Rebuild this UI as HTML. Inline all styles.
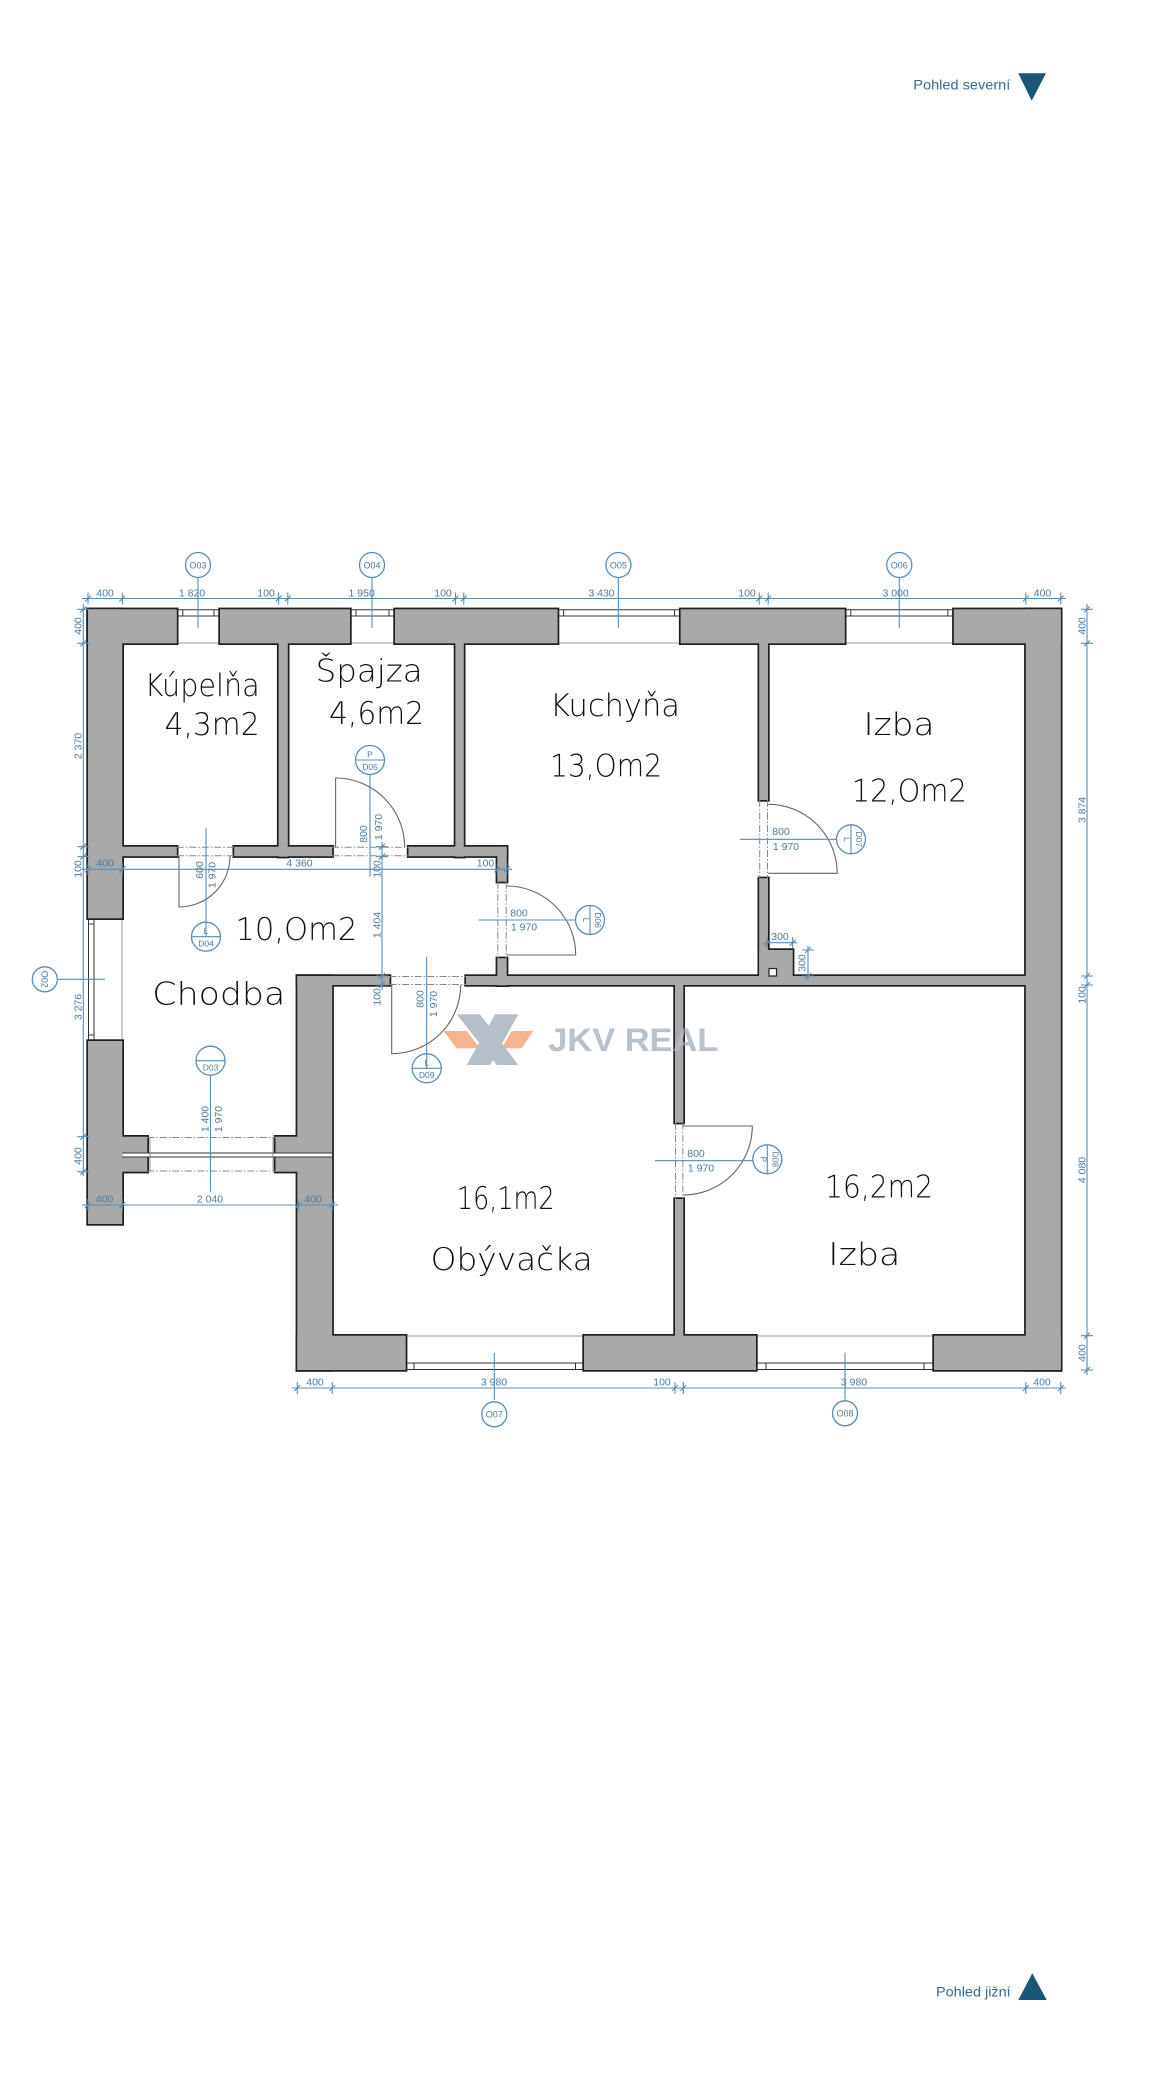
<!DOCTYPE html>
<html><head><meta charset="utf-8"><style>
html,body{margin:0;padding:0;background:#fff;}
svg{display:block;}
</style></head><body>
<svg xmlns="http://www.w3.org/2000/svg" width="1170" height="2080" viewBox="0 0 1170 2080">
<rect width="1170" height="2080" fill="#fff"/>

<!-- compass labels -->
<text x="913.3" y="89.3" font-family="Liberation Sans, sans-serif" font-size="13.5" fill="#3a6a8e" textLength="97" lengthAdjust="spacingAndGlyphs">Pohled severní</text>
<polygon points="1018.3,73.3 1046,73.3 1031.7,100.7" fill="#1d5577"/>
<text x="936" y="1996.7" font-family="Liberation Sans, sans-serif" font-size="13.5" fill="#3a6a8e" textLength="74.7" lengthAdjust="spacingAndGlyphs">Pohled jižní</text>
<polygon points="1032.3,1973.3 1046.7,2000 1018.3,2000" fill="#1d5577"/>

<!-- windows thin lines -->
<g stroke="#333" stroke-width="1" fill="none">
  <path d="M176.8,609.8H220M176.8,616H220M182.8,609.8V616M214,609.8V616"/>
  <path d="M350,609.8H395M350,616H395M356,609.8V616M389,609.8V616"/>
  <path d="M557.6,609.8H680.6M557.6,616H680.6M563.6,609.8V616M674.6,609.8V616"/>
  <path d="M844.8,609.8H953.8M844.8,616H953.8M850.8,609.8V616M947.8,609.8V616"/>
  <path d="M88.5,918.3V1041M94,918.3V1041M88.5,924H94M88.5,1035H94"/>
  <path d="M405.7,1363H584M405.7,1369.5H584M414,1363V1369.5M575.5,1363V1369.5"/>
  <path d="M756,1363H934M756,1369.5H934M766,1363V1369.5M924,1363V1369.5"/>
</g>
<g stroke="#999" stroke-width="1" fill="none">
  <path d="M176.8,643H220M350,643H395M557.6,643H680.6M844.8,643H953.8"/>
  <path d="M122,918.3V1041"/>
  <path d="M405.7,1336H584M756,1336H934"/>
</g>

<!-- logo (under walls, semi-transparent look) -->
<g>
  <polygon points="443.3,1031 466.7,1031 480,1048.3 456.7,1048.3" fill="#f5b48e"/>
  <polygon points="511.7,1031 533.3,1031 521.7,1048.3 501.7,1048.3" fill="#f5b48e"/>
  <polygon points="456.7,1014.3 480,1014.3 518.3,1065 496.7,1065" fill="#b5bfc9"/>
  <polygon points="495,1014.3 518.3,1014.3 490,1065 466.7,1065" fill="#b5bfc9"/>
  <text x="548.3" y="1051" font-family="Liberation Sans, sans-serif" font-weight="bold" font-size="32" fill="#b8c2cc" textLength="170" lengthAdjust="spacingAndGlyphs">JKV REAL</text>
</g>

<!-- walls: stroke pass -->
<g fill="#a9a9a9" stroke="#1e1e1e" stroke-width="3.4">
  <rect x="88" y="609.3" width="88.8" height="34"/>
  <rect x="220" y="609.3" width="130" height="34"/>
  <rect x="395" y="609.3" width="162.6" height="34"/>
  <rect x="680.6" y="609.3" width="164.2" height="34"/>
  <rect x="953.8" y="609.3" width="107" height="34"/>
  <rect x="88" y="609.3" width="34.3" height="309"/>
  <rect x="88" y="1041" width="34.3" height="183"/>
  <rect x="1025.8" y="609.3" width="35" height="760.7"/>
  <rect x="297.3" y="1335.7" width="108.4" height="34.3"/>
  <rect x="584" y="1335.7" width="172" height="34.3"/>
  <rect x="934" y="1335.7" width="126.8" height="34.3"/>
  <rect x="297.3" y="976" width="34.9" height="394"/>
  <rect x="118" y="1136.7" width="29.3" height="35"/>
  <rect x="275.5" y="1136.7" width="25" height="35"/>
  <rect x="278.6" y="640" width="9.2" height="216.7"/>
  <rect x="455.4" y="640" width="8.4" height="216.7"/>
  <rect x="118" y="846.7" width="58.8" height="9.5"/>
  <rect x="234.2" y="846.7" width="98" height="9.5"/>
  <rect x="408.5" y="846.7" width="98.2" height="9.5"/>
  <rect x="497.3" y="846.7" width="9.4" height="35"/>
  <rect x="497.3" y="958.3" width="9.4" height="27"/>
  <rect x="297.3" y="976" width="92.3" height="9"/>
  <rect x="466" y="976" width="562" height="9"/>
  <rect x="759.2" y="640" width="8.8" height="160"/>
  <rect x="759.2" y="878.3" width="8.8" height="100"/>
  <rect x="759.2" y="950" width="33.5" height="28"/>
  <rect x="675" y="983" width="8.3" height="139.7"/>
  <rect x="675" y="1199" width="8.3" height="139"/>
</g>
<!-- walls: fill pass -->
<g fill="#a9a9a9" stroke="none">
  <rect x="88" y="609.3" width="88.8" height="34"/>
  <rect x="220" y="609.3" width="130" height="34"/>
  <rect x="395" y="609.3" width="162.6" height="34"/>
  <rect x="680.6" y="609.3" width="164.2" height="34"/>
  <rect x="953.8" y="609.3" width="107" height="34"/>
  <rect x="88" y="609.3" width="34.3" height="309"/>
  <rect x="88" y="1041" width="34.3" height="183"/>
  <rect x="1025.8" y="609.3" width="35" height="760.7"/>
  <rect x="297.3" y="1335.7" width="108.4" height="34.3"/>
  <rect x="584" y="1335.7" width="172" height="34.3"/>
  <rect x="934" y="1335.7" width="126.8" height="34.3"/>
  <rect x="297.3" y="976" width="34.9" height="394"/>
  <rect x="118" y="1136.7" width="29.3" height="35"/>
  <rect x="275.5" y="1136.7" width="25" height="35"/>
  <rect x="278.6" y="640" width="9.2" height="216.7"/>
  <rect x="455.4" y="640" width="8.4" height="216.7"/>
  <rect x="118" y="846.7" width="58.8" height="9.5"/>
  <rect x="234.2" y="846.7" width="98" height="9.5"/>
  <rect x="408.5" y="846.7" width="98.2" height="9.5"/>
  <rect x="497.3" y="846.7" width="9.4" height="35"/>
  <rect x="497.3" y="958.3" width="9.4" height="27"/>
  <rect x="297.3" y="976" width="92.3" height="9"/>
  <rect x="466" y="976" width="562" height="9"/>
  <rect x="759.2" y="640" width="8.8" height="160"/>
  <rect x="759.2" y="878.3" width="8.8" height="100"/>
  <rect x="759.2" y="950" width="33.5" height="28"/>
  <rect x="675" y="983" width="8.3" height="139.7"/>
  <rect x="675" y="1199" width="8.3" height="139"/>
</g>
<rect x="769" y="968.5" width="7.5" height="7.5" fill="#fff" stroke="#222" stroke-width="1.2"/>

<!-- logo text overlay over partition (watermark) -->
<text x="548.3" y="1051" font-family="Liberation Sans, sans-serif" font-weight="bold" font-size="32" fill="#b8c2cc" fill-opacity="0.55" textLength="170" lengthAdjust="spacingAndGlyphs">JKV REAL</text>

<!-- entrance threshold band -->
<rect x="122.8" y="1153" width="209" height="4" fill="#fff"/>
<path d="M122.3,1153H332.2M122.3,1157H332.2" stroke="#333" stroke-width="1"/>
<path d="M147.3,1137.5H275.5M147.3,1171H275.5" stroke="#888" stroke-width="1" stroke-dasharray="7 2 1.5 2" fill="none"/>
<path d="M150,1137V1171.5M273,1137V1171.5" stroke="#777" stroke-width="0.8"/>

<!-- door gap dash lines -->
<g stroke="#888" stroke-width="1" stroke-dasharray="7 2 1.5 2" fill="none">
  <path d="M176.8,847.2H234.2M176.8,855.7H234.2"/>
  <path d="M332.2,847.2H408.5M332.2,855.7H408.5"/>
  <path d="M497.8,881.7V958.3M506.2,881.7V958.3"/>
  <path d="M759.7,800V878.3M767.5,800V878.3"/>
  <path d="M675.5,1122.7V1199M682.8,1122.7V1199"/>
  <path d="M389.6,976.5H466M389.6,984.5H466"/>
</g>

<!-- door swings -->
<g stroke="#666" stroke-width="1.1" fill="none">
  <path d="M179,856V907A51,51 0 0 0 230,856"/>
  <path d="M335.6,847V778A69,69 0 0 1 404.6,847"/>
  <path d="M506.7,955H575.7A69,69 0 0 0 506.7,886"/>
  <path d="M768.2,873.3H837.2A69,69 0 0 0 768.2,804.3"/>
  <path d="M683.3,1126H752.3A69,69 0 0 1 683.3,1195"/>
  <path d="M391.7,985V1053.7A69,69 0 0 0 460.7,985"/>
</g>

<!-- dimension lines -->
<g stroke="#5a8cb4" stroke-width="1.1" fill="none">
  <path d="M82,598.5H1066"/>
  <path d="M83.3,604V1176"/>
  <path d="M1087,604V1375"/>
  <path d="M292,1388H1066"/>
  <path d="M82,869.3H512"/>
  <path d="M82,1205H338"/>
  <path d="M382,842V990"/>
  <path d="M763,942.7H797"/>
  <path d="M808,946V980"/>
  <path d="M88,592.5V604.5M85,601.5L91,595.5M122.3,592.5V604.5M119.3,601.5L125.3,595.5M278.6,592.5V604.5M275.6,601.5L281.6,595.5M287.8,592.5V604.5M284.8,601.5L290.8,595.5M455.4,592.5V604.5M452.4,601.5L458.4,595.5M463.8,592.5V604.5M460.8,601.5L466.8,595.5M759.2,592.5V604.5M756.2,601.5L762.2,595.5M768.2,592.5V604.5M765.2,601.5L771.2,595.5M1025.8,592.5V604.5M1022.8,601.5L1028.8,595.5M1060.8,592.5V604.5M1057.8,601.5L1063.8,595.5"/>
  <path d="M77.3,609.3H89.3M80.3,612.3L86.3,606.3M77.3,643.3H89.3M80.3,646.3L86.3,640.3M77.3,846.7H89.3M80.3,849.7L86.3,843.7M77.3,856.7H89.3M80.3,859.7L86.3,853.7M77.3,1136.7H89.3M80.3,1139.7L86.3,1133.7M77.3,1171.7H89.3M80.3,1174.7L86.3,1168.7"/>
  <path d="M1081,609.3H1093M1084,612.3L1090,606.3M1081,643.3H1093M1084,646.3L1090,640.3M1081,976H1093M1084,979L1090,973M1081,985H1093M1084,988L1090,982M1081,1335.7H1093M1084,1338.7L1090,1332.7M1081,1370H1093M1084,1373L1090,1367"/>
  <path d="M297.3,1382V1394M294.3,1391L300.3,1385M332.2,1382V1394M329.2,1391L335.2,1385M675,1382V1394M672,1391L678,1385M683.3,1382V1394M680.3,1391L686.3,1385M1025.8,1382V1394M1022.8,1391L1028.8,1385M1060.8,1382V1394M1057.8,1391L1063.8,1385"/>
  <path d="M88,863.3V875.3M85,872.3L91,866.3M122.3,863.3V875.3M119.3,872.3L125.3,866.3M497.3,863.3V875.3M494.3,872.3L500.3,866.3M506.7,863.3V875.3M503.7,872.3L509.7,866.3"/>
  <path d="M88,1199V1211M85,1208L91,1202M122.3,1199V1211M119.3,1208L125.3,1202M298.5,1199V1211M295.5,1208L301.5,1202M332.2,1199V1211M329.2,1208L335.2,1202"/>
  <path d="M376,846.7H388M379,849.7L385,843.7M376,856.7H388M379,859.7L385,853.7M376,976H388M379,979L385,973M376,985H388M379,988L385,982"/>
  <path d="M767.3,937V948.5M764.3,945.7L770.3,939.7M792.7,937V948.5M789.7,945.7L795.7,939.7M802,950H814M805,953L811,947M802,976H814M805,979L811,973"/>
  <path d="M198,578V628M372,578V628M618.4,578V628M899.3,578V628"/>
  <path d="M58,979.3H105"/>
  <path d="M494.3,1353V1400M845,1352.7V1399.5"/>
  <path d="M206,828V936.7M370,760V876.7M426.7,956.7V1068.3M210.5,1060.7V1191.7"/>
  <path d="M478.3,920H590M739.8,839.3H851M655,1160.7H767.3"/>
</g>

<!-- tag circles -->
<g stroke="#5a8cb4" stroke-width="1.3" fill="#fff">
  <circle cx="198" cy="565" r="12.5"/>
  <circle cx="372" cy="565" r="12.5"/>
  <circle cx="618.4" cy="565" r="12.5"/>
  <circle cx="899.3" cy="565" r="12.5"/>
  <circle cx="44.8" cy="979.3" r="12.5"/>
  <circle cx="494.3" cy="1414.3" r="12.5"/>
  <circle cx="845" cy="1413.3" r="12.5"/>
  <circle cx="206" cy="936.7" r="14.5"/>
  <circle cx="370" cy="760" r="14.5"/>
  <circle cx="426.7" cy="1068.3" r="14.5"/>
  <circle cx="210.5" cy="1060.7" r="14.5"/>
  <circle cx="590" cy="920" r="14.5"/>
  <circle cx="851" cy="839.3" r="14.5"/>
  <circle cx="767.3" cy="1159.3" r="14.5"/>
</g>
<g stroke="#5a8cb4" stroke-width="1.1" fill="none">
  <path d="M191.5,936.7H220.5M206,922.2V936.7"/>
  <path d="M355.5,760H384.5"/>
  <path d="M412.2,1068.3H441.2M426.7,1053.8V1068.3"/>
  <path d="M196,1060.7H225"/>
  <path d="M590,905.5V934.5"/>
  <path d="M851,824.8V853.8"/>
  <path d="M767.3,1144.8V1173.8"/>
</g>

<!-- tag texts -->
<g font-family="Liberation Sans, sans-serif" font-size="9" fill="#4a7aa0" text-anchor="middle">
  <text x="198" y="568.3">O03</text>
  <text x="372" y="568.3">O04</text>
  <text x="618.4" y="568.3">O05</text>
  <text x="899.3" y="568.3">O06</text>
  <text x="494.3" y="1417.6">O07</text>
  <text x="845" y="1416.6">O08</text>
  <text transform="translate(41.5,979.3) rotate(90)">O02</text>
  <text x="206" y="934" font-size="8.5">L</text>
  <text x="206" y="946.5" font-size="8.5">D04</text>
  <text x="370" y="757.5" font-size="8.5">P</text>
  <text x="370" y="770" font-size="8.5">D05</text>
  <text x="426.7" y="1065.5" font-size="8.5">L</text>
  <text x="426.7" y="1078" font-size="8.5">D09</text>
  <text x="210.5" y="1070.5" font-size="8.5">D03</text>
  <text transform="translate(583,920) rotate(90)" font-size="8.5">L</text>
  <text transform="translate(595,920) rotate(90)" font-size="8.5">D06</text>
  <text transform="translate(844,839.3) rotate(90)" font-size="8.5">L</text>
  <text transform="translate(856,839.3) rotate(90)" font-size="8.5">D07</text>
  <text transform="translate(760.3,1159.3) rotate(90)" font-size="8.5">P</text>
  <text transform="translate(772.3,1159.3) rotate(90)" font-size="8.5">D08</text>
</g>

<!-- dimension texts -->
<g font-family="Liberation Sans, sans-serif" font-size="10.5" fill="#4a7aa0" text-anchor="middle">
  <text x="105" y="596.5">400</text>
  <text x="192" y="596.5">1 820</text>
  <text x="266" y="596.5">100</text>
  <text x="361.7" y="596.5">1 950</text>
  <text x="443" y="596.5">100</text>
  <text x="601.5" y="596.5">3 430</text>
  <text x="747" y="596.5">100</text>
  <text x="895.6" y="596.5">3 000</text>
  <text x="1042.5" y="596.5">400</text>

  <text transform="translate(81.5,626) rotate(-90)">400</text>
  <text transform="translate(81.5,746) rotate(-90)">2 370</text>
  <text transform="translate(81.5,869) rotate(-90)">100</text>
  <text transform="translate(81.5,1007) rotate(-90)">3 276</text>
  <text transform="translate(81.5,1156) rotate(-90)">400</text>

  <text transform="translate(1085.5,626) rotate(-90)">400</text>
  <text transform="translate(1085.5,810) rotate(-90)">3 874</text>
  <text transform="translate(1085.5,995) rotate(-90)">100</text>
  <text transform="translate(1085.5,1170) rotate(-90)">4 080</text>
  <text transform="translate(1085.5,1353) rotate(-90)">400</text>

  <text x="315" y="1385.5">400</text>
  <text x="494" y="1385.5">3 980</text>
  <text x="662" y="1385.5">100</text>
  <text x="854" y="1385.5">3 980</text>
  <text x="1042" y="1385.5">400</text>

  <text x="105" y="866.5">400</text>
  <text x="299.5" y="866.5">4 360</text>
  <text x="485.5" y="866.5">100</text>

  <text x="104.5" y="1202.5">400</text>
  <text x="210" y="1202.5">2 040</text>
  <text x="313" y="1202.5">400</text>

  <text transform="translate(380.5,869) rotate(-90)">100</text>
  <text transform="translate(380.5,925) rotate(-90)">1 404</text>
  <text transform="translate(380.5,997) rotate(-90)">100</text>

  <text x="780" y="940">300</text>
  <text transform="translate(805.5,963) rotate(-90)">300</text>

  <text transform="translate(203,870) rotate(-90)">600</text>
  <text transform="translate(215.5,875) rotate(-90)">1 970</text>
  <text transform="translate(367,834) rotate(-90)">800</text>
  <text transform="translate(382,827) rotate(-90)">1 970</text>
  <text transform="translate(423.5,999) rotate(-90)">800</text>
  <text transform="translate(437,1004) rotate(-90)">1 970</text>
  <text transform="translate(208.6,1119) rotate(-90)">1 400</text>
  <text transform="translate(222,1119) rotate(-90)">1 970</text>

  <text x="519" y="916.7">800</text>
  <text x="524" y="930.7">1 970</text>
  <text x="781" y="835">800</text>
  <text x="786" y="850">1 970</text>
  <text x="696" y="1157">800</text>
  <text x="701" y="1171.7">1 970</text>
</g>

<!-- room labels -->
<g font-family="DejaVu Sans, Liberation Sans, sans-serif" font-weight="200" font-size="31" fill="#111">
  <text x="144.7" y="696" textLength="115" lengthAdjust="spacingAndGlyphs">Kúpelňa</text>
  <text x="164.6" y="735" textLength="95" lengthAdjust="spacingAndGlyphs">4,3m2</text>
  <text x="315.7" y="681.7" textLength="107" lengthAdjust="spacingAndGlyphs">Špajza</text>
  <text x="329" y="724" textLength="95" lengthAdjust="spacingAndGlyphs">4,6m2</text>
  <text x="550" y="716" textLength="130" lengthAdjust="spacingAndGlyphs">Kuchyňa</text>
  <text x="550" y="776.7" textLength="112" lengthAdjust="spacingAndGlyphs">13,Om2</text>
  <text x="863.5" y="735" textLength="71" lengthAdjust="spacingAndGlyphs">Izba</text>
  <text x="851.8" y="801.7" textLength="115" lengthAdjust="spacingAndGlyphs">12,Om2</text>
  <text x="235.4" y="940" textLength="122" lengthAdjust="spacingAndGlyphs">10,Om2</text>
  <text x="152.3" y="1004.3" textLength="133" lengthAdjust="spacingAndGlyphs">Chodba</text>
  <text x="456.7" y="1209" textLength="98" lengthAdjust="spacingAndGlyphs">16,1m2</text>
  <text x="430.7" y="1270" textLength="162" lengthAdjust="spacingAndGlyphs">Obývačka</text>
  <text x="825" y="1197.7" textLength="108" lengthAdjust="spacingAndGlyphs">16,2m2</text>
  <text x="828.3" y="1265" textLength="72" lengthAdjust="spacingAndGlyphs">Izba</text>
</g>
</svg>
</body></html>
